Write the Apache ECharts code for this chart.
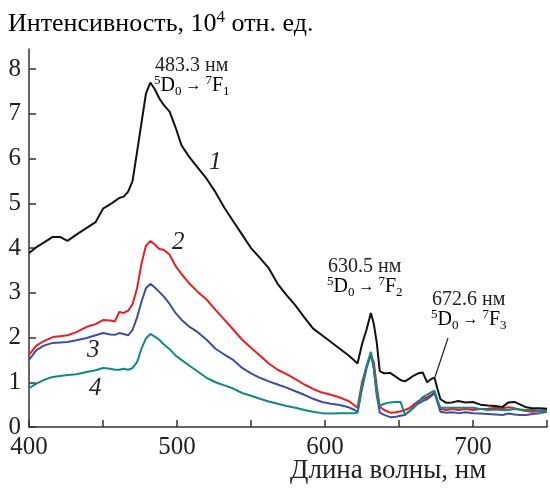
<!DOCTYPE html>
<html>
<head>
<meta charset="utf-8">
<script src="https://cdn.jsdelivr.net/npm/echarts@6/dist/echarts.min.js"></script>
<style>
  html, body { margin: 0; padding: 0; background: #fff; }
  #chart { width: 550px; height: 490px; }
</style>
</head>
<body>
<div id="chart"></div>
<script>
// длины волн, нм
const wavelengths = [400, 405, 410, 416, 421, 426, 432, 439, 445, 450, 455, 458, 461, 464, 467, 470, 473, 476, 479, 482,
  485, 488, 491, 495, 499, 503, 508, 514, 520, 526, 532, 538, 544, 550, 556, 562, 568, 574, 580, 586, 592, 598, 604, 610,
  616, 620, 622, 625, 628, 631, 633, 635, 637, 640, 644, 648, 651, 654, 657, 660, 663, 666, 669, 672, 674, 676, 678, 682,
  686, 690, 695, 700, 705, 710, 715, 720, 724, 728, 732, 736, 740, 745, 750];

const curve1 = [3.89, 4.02, 4.12, 4.25, 4.25, 4.16, 4.30, 4.45, 4.58, 4.88, 4.98, 5.05, 5.12, 5.15, 5.26, 5.50, 6.15, 6.80, 7.45, 7.70,
  7.55, 7.35, 7.20, 7.05, 6.70, 6.30, 6.05, 5.80, 5.55, 5.25, 4.90, 4.60, 4.30, 4.00, 3.78, 3.55, 3.20, 2.95, 2.72, 2.45, 2.20, 2.05, 1.90, 1.75,
  1.60, 1.48, 1.42, 1.85, 2.17, 2.55, 2.30, 1.88, 1.25, 1.20, 1.21, 1.12, 1.05, 1.02, 1.08, 1.15, 1.20, 1.22, 1.00, 1.08, 1.10, 0.85, 0.62, 0.54,
  0.55, 0.58, 0.55, 0.56, 0.50, 0.48, 0.47, 0.45, 0.55, 0.56, 0.50, 0.44, 0.42, 0.42, 0.41];

const curve2 = [1.61, 1.82, 1.92, 2.01, 2.03, 2.05, 2.12, 2.24, 2.30, 2.39, 2.38, 2.36, 2.57, 2.55, 2.60, 2.75, 3.10, 3.65, 4.05, 4.16,
  4.08, 3.98, 3.96, 3.85, 3.60, 3.42, 3.22, 3.02, 2.85, 2.62, 2.40, 2.18, 1.95, 1.77, 1.60, 1.42, 1.28, 1.18, 1.07, 0.95, 0.85, 0.77, 0.72, 0.66,
  0.58, 0.48, 0.43, 1.00, 1.35, 1.60, 1.45, 0.90, 0.45, 0.38, 0.32, 0.33, 0.35, 0.38, 0.42, 0.50, 0.58, 0.63, 0.66, 0.72, 0.78, 0.58, 0.40, 0.38,
  0.40, 0.38, 0.40, 0.38, 0.40, 0.41, 0.43, 0.42, 0.44, 0.42, 0.38, 0.36, 0.34, 0.36, 0.38];

const curve3 = [1.50, 1.72, 1.82, 1.88, 1.89, 1.90, 1.94, 1.99, 2.05, 2.10, 2.07, 2.06, 2.10, 2.08, 2.05, 2.17, 2.45, 2.80, 3.10, 3.20,
  3.12, 3.02, 2.92, 2.75, 2.55, 2.40, 2.25, 2.12, 1.95, 1.75, 1.62, 1.50, 1.32, 1.20, 1.10, 1.02, 0.95, 0.88, 0.80, 0.72, 0.63, 0.56, 0.52, 0.49,
  0.44, 0.38, 0.34, 0.85, 1.30, 1.65, 1.30, 0.70, 0.32, 0.27, 0.22, 0.23, 0.25, 0.27, 0.35, 0.45, 0.52, 0.58, 0.62, 0.70, 0.76, 0.55, 0.34, 0.32,
  0.33, 0.31, 0.33, 0.31, 0.30, 0.29, 0.28, 0.27, 0.30, 0.28, 0.27, 0.27, 0.29, 0.31, 0.34];

const curve4 = [0.87, 0.97, 1.05, 1.12, 1.14, 1.16, 1.18, 1.23, 1.27, 1.32, 1.30, 1.28, 1.28, 1.30, 1.28, 1.32, 1.45, 1.75, 1.98, 2.08,
  2.02, 1.95, 1.85, 1.74, 1.60, 1.50, 1.38, 1.24, 1.10, 1.00, 0.93, 0.86, 0.76, 0.70, 0.63, 0.57, 0.52, 0.47, 0.43, 0.38, 0.34, 0.31, 0.30, 0.31,
  0.31, 0.31, 0.32, 0.90, 1.35, 1.68, 1.30, 0.75, 0.47, 0.52, 0.55, 0.56, 0.56, 0.28, 0.35, 0.43, 0.55, 0.67, 0.72, 0.78, 0.81, 0.60, 0.43, 0.43,
  0.43, 0.43, 0.43, 0.43, 0.40, 0.38, 0.39, 0.38, 0.38, 0.40, 0.39, 0.38, 0.38, 0.37, 0.36];

const yTicks = [0, 1, 2, 3, 4, 5, 6, 7, 8];
const xTicks = [400, 450, 500, 550, 600, 650, 700, 750];
const xLabels = [400, 500, 600, 700];

const FONT = "Liberation Serif";
const INK = "#222";

function pairs(vals) {
  return wavelengths.map((w, i) => [w, vals[i]]);
}

function line(name, vals, color, z) {
  return {
    name: name,
    type: "line",
    data: pairs(vals),
    showSymbol: false,
    z: z,
    lineStyle: { color: color, width: 2 },
  };
}

// текст с индексами: 5D0 → 7F1
const richLevel = {
  n: { fontFamily: FONT, fontSize: 20, color: INK, lineHeight: 24, verticalAlign: "middle" },
  a: { fontFamily: FONT, fontSize: 16, color: INK, lineHeight: 24, verticalAlign: "middle" },
  sup: { fontFamily: FONT, fontSize: 13, color: INK, lineHeight: 12, verticalAlign: "top" },
  sub: { fontFamily: FONT, fontSize: 13, color: INK, lineHeight: 10, verticalAlign: "bottom" },
};

function note(x, y, nm, lvl) {
  return [
    { type: "text", left: x, top: y, style: { text: nm + " нм", fontFamily: FONT, fontSize: 20, fill: INK } },
    {
      type: "text", left: x - 1, top: y + 18,
      style: { text: "{sup|5}{n|D}{sub|0}{a| → }{sup|7}{n|F}{sub|" + lvl + "}", rich: richLevel },
    },
  ];
}

function numLabel(x, y, t) {
  return { type: "text", left: x, top: y, style: { text: t, fontFamily: FONT, fontStyle: "italic", fontSize: 25, fill: INK } };
}

let myChart = echarts.init(document.getElementById("chart"), null, { renderer: "canvas" });

let options = {
  animation: false,
  textStyle: { fontFamily: FONT },
  grid: { left: 29, right: 3, top: 49, bottom: 63 },
  xAxis: {
    type: "value",
    min: 400,
    max: 750,
    interval: 50,
    axisLine: { lineStyle: { color: "#333", width: 1.5 } },
    axisTick: { inside: true, length: 7, lineStyle: { color: "#333", width: 1.5 }, customValues: xTicks },
    axisLabel: { customValues: xLabels, fontFamily: FONT, fontSize: 25, color: INK, margin: 8 },
    splitLine: { show: false },
  },
  yAxis: {
    type: "value",
    min: 0,
    max: 8.45,
    interval: 1,
    axisLine: { show: true, lineStyle: { color: "#333", width: 1.5 } },
    axisTick: { show: true, inside: true, length: 7, lineStyle: { color: "#333", width: 1.5 }, customValues: yTicks },
    axisLabel: { customValues: yTicks, fontFamily: FONT, fontSize: 25, color: INK, margin: 8 },
    splitLine: { show: false },
  },
  series: [
    line("2", curve2, "#ec1c24", 2),
    line("3", curve3, "#3c4ea6", 3),
    line("4", curve4, "#11897e", 4),
    line("1", curve1, "#111111", 5),
  ],
  graphic: [
    {
      type: "text", left: 8, top: 9,
      style: {
        text: "{a|Интенсивность, 10}{s|4}{a| отн. ед.}",
        rich: {
          a: { fontFamily: FONT, fontSize: 26, color: INK, lineHeight: 30, verticalAlign: "middle" },
          s: { fontFamily: FONT, fontSize: 17, color: INK, lineHeight: 16, verticalAlign: "top" },
        },
      },
    },
    { type: "text", left: 290, top: 457, style: { text: "Длина волны, нм", fontFamily: FONT, fontSize: 27, fill: INK } },
    ...note(155, 56, "483.3", "1"),
    ...note(328, 257, "630.5", "2"),
    ...note(432, 290, "672.6", "3"),
    { type: "line", shape: { x1: 448, y1: 338, x2: 435, y2: 377 }, style: { stroke: INK, lineWidth: 1.2 } },
    numLabel(209, 150, "1"),
    numLabel(172, 230, "2"),
    numLabel(87, 338, "3"),
    numLabel(89, 376, "4"),
  ],
};

myChart.setOption(options);
window.addEventListener("resize", function () {
  myChart.resize();
});
</script>
</body>
</html>
